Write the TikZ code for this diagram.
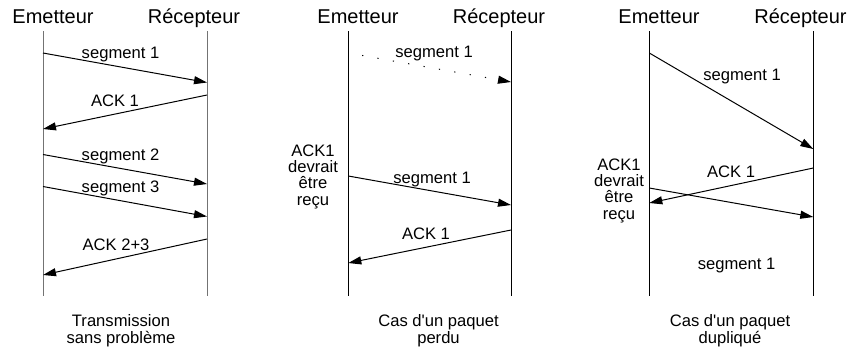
\documentclass[tikz,border=0pt]{standalone}
\usepackage{fontspec}
\setmainfont{Liberation Sans}
\usetikzlibrary{arrows.meta,positioning,calc}

\begin{document}
\begin{tikzpicture}[
    x=0.5pt,
    y=-0.5pt,
    head/.style = {
        anchor=base,
        inner sep=0pt,
        font=\fontsize{10}{12}\selectfont
    },
    msg/.style = {
        anchor=base,
        inner sep=0pt,
        font=\fontsize{8.3}{8.1}\selectfont
    },
    note/.style = {
        msg,
        align=center
    },
    lifeline/.style = {
        line width=0.5pt,
        draw=black
    },
    arrow/.style = {
        -{Triangle[length=6.5pt,width=4pt]},
        line width=0.5pt,
        draw=black
    },
    lost/.style = {
        arrow,
        dash pattern=on 0.6pt off 7.2pt,
        dash phase=-7pt
    }
]
    \useasboundingbox (0,0) rectangle (850,349);

    % Node Definitions
    \node [head] (em_ok) at (53,23.3) {Emetteur};
    \node [head] (rec_ok) at (194,23.3) {Récepteur};
    \node [head] (em_lost) at (358,23.3) {Emetteur};
    \node [head] (rec_lost) at (499,23.3) {Récepteur};
    \node [head] (em_dup) at (659,23.3) {Emetteur};
    \node [head] (rec_dup) at (800.5,23.3) {Récepteur};

    \coordinate (em_ok_top) at (43,31);
    \coordinate (em_ok_bot) at (43,296);
    \coordinate (rec_ok_top) at (207,31);
    \coordinate (rec_ok_bot) at (207,296);
    \coordinate (em_lost_top) at (348.3,31);
    \coordinate (em_lost_bot) at (348.3,296);
    \coordinate (rec_lost_top) at (511,31);
    \coordinate (rec_lost_bot) at (511,296);
    \coordinate (em_dup_top) at (649.3,31);
    \coordinate (em_dup_bot) at (649.3,296);
    \coordinate (rec_dup_top) at (813.3,31);
    \coordinate (rec_dup_bot) at (813.3,296);

    % first case
    \coordinate (ok_s1_out) at (43,53);
    \coordinate (ok_s1_in) at (207,82.5);
    \coordinate (ok_a1_out) at (207,95);
    \coordinate (ok_a1_in) at (43,129);
    \coordinate (ok_s2_out) at (43,154.5);
    \coordinate (ok_s2_in) at (207,184);
    \coordinate (ok_s3_out) at (43,186.5);
    \coordinate (ok_s3_in) at (207,216.5);
    \coordinate (ok_a23_out) at (207,239);
    \coordinate (ok_a23_in) at (43,275);

    \node [msg] (ok_s1) at (120.5,58) {segment 1};
    \node [msg] (ok_a1) at (115,106) {ACK 1};
    \node [msg] (ok_s2) at (120.5,160) {segment 2};
    \node [msg] (ok_s3) at (120.5,192) {segment 3};
    \node [msg] (ok_a23) at (116,250) {ACK 2+3};
    \node [note] (ok_caption) at (121,343) {Transmission\\sans problème};

    % second case
    \coordinate (lost_s1_out) at (348.3,53);
    \coordinate (lost_s1_in) at (511,82);
    \coordinate (lost_r1_out) at (348.3,176);
    \coordinate (lost_r1_in) at (511,205);
    \coordinate (lost_a1_out) at (511,230);
    \coordinate (lost_a1_in) at (348.3,263);

    \node [msg] (lost_s1) at (434,57.5) {segment 1};
    \node [msg] (lost_r1) at (432,183) {segment 1};
    \node [msg] (lost_a1) at (426,239) {ACK 1};
    \node [note] (lost_wait) at (313,205) {ACK1\\devrait\\être\\reçu};
    \node [note] (lost_caption) at (438.5,343) {Cas d\textquotesingle un paquet\\perdu};

    % third case
    \coordinate (dup_s1_out) at (649.3,53);
    \coordinate (dup_s1_in) at (813.3,149);
    \coordinate (dup_a1_out) at (813.3,168);
    \coordinate (dup_a1_in) at (649.3,203);
    \coordinate (dup_r1_out) at (649.3,188);
    \coordinate (dup_r1_in) at (813.3,217);

    \node [msg] (dup_s1) at (742,80) {segment 1};
    \node [msg] (dup_a1) at (731,177) {ACK 1};
    \node [msg] (dup_r1) at (736.5,269) {segment 1};
    \node [note] (dup_wait) at (619,219) {ACK1\\devrait\\être\\reçu};
    \node [note] (dup_caption) at (730,343) {Cas d\textquotesingle un paquet\\dupliqué};

    % Lifelines
    \draw [lifeline, draw=black!55] (em_ok_top) -- (em_ok_bot);
    \draw [lifeline, draw=black!55] (rec_ok_top) -- (rec_ok_bot);
    \draw [lifeline] (em_lost_top) -- (em_lost_bot);
    \draw [lifeline] (rec_lost_top) -- (rec_lost_bot);
    \draw [lifeline] (em_dup_top) -- (em_dup_bot);
    \draw [lifeline] (rec_dup_top) -- (rec_dup_bot);

    % Arrows connecting nodes
    \draw [arrow] (ok_s1_out) -- (ok_s1_in);
    \draw [arrow] (ok_a1_out) -- (ok_a1_in);
    \draw [arrow] (ok_s2_out) -- (ok_s2_in);
    \draw [arrow] (ok_s3_out) -- (ok_s3_in);
    \draw [arrow] (ok_a23_out) -- (ok_a23_in);

    \draw [lost] (lost_s1_out) -- (lost_s1_in);
    \draw [arrow] (lost_r1_out) -- (lost_r1_in);
    \draw [arrow] (lost_a1_out) -- (lost_a1_in);

    \draw [arrow] (dup_s1_out) -- (dup_s1_in);
    \draw [arrow] (dup_a1_out) -- (dup_a1_in);
    \draw [arrow] (dup_r1_out) -- (dup_r1_in);

\end{tikzpicture}
\end{document}
